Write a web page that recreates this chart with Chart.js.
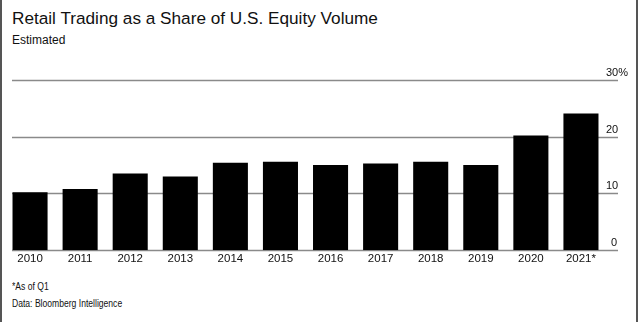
<!DOCTYPE html>
<html>
<head>
<meta charset="utf-8">
<script src="https://cdn.jsdelivr.net/npm/chart.js@4/dist/chart.umd.min.js"></script>
<style>
  html, body { margin: 0; padding: 0; background: #fff; }
  #wrap {
    position: relative; width: 640px; height: 322px; overflow: hidden;
    font-family: "Liberation Sans", Arial, sans-serif; color: #111;
  }
  #wrap::before, #wrap::after {
    content: ""; position: absolute; top: 0; bottom: 0; width: 2px; background: #555;
  }
  #wrap::before { left: 0; }
  #wrap::after { left: 636px; }
  .title { position: absolute; left: 12px; top: 8px; font-size: 17.2px; white-space: nowrap; }
  .sub { position: absolute; left: 12px; top: 33px; font-size: 12px; }
  .note {
    position: absolute; left: 12px; font-size: 11px; white-space: nowrap;
    transform: scaleX(0.78); transform-origin: left center;
  }
  #chartBox { position: absolute; left: 0; top: 0; width: 640px; height: 268px; }
</style>
</head>
<body>
<div id="wrap">
  <div class="title">Retail Trading as a Share of U.S. Equity Volume</div>
  <div class="sub">Estimated</div>
  <div id="chartBox"><canvas id="chartRetail"></canvas></div>
  <div class="note" style="top:280px">*As of Q1</div>
  <div class="note" style="top:297px">Data: Bloomberg Intelligence</div>
</div>
<script>
const years = ["2010", "2011", "2012", "2013", "2014", "2015", "2016", "2017", "2018", "2019", "2020", "2021*"];
const retailShare = [10.2, 10.8, 13.5, 13.0, 15.4, 15.6, 15.0, 15.3, 15.6, 15.0, 20.2, 24.1];
const yTicks = [0, 10, 20, 30];

const gridColor = "#8a8a8a";

/** Gridlines and right-hand labels, drawn above each line from the y scale */
const rightGrid = {
  id: "rightGrid",
  beforeDatasetsDraw(chart) {
    const { ctx, chartArea, scales } = chart;
    const y = scales.y;
    ctx.save();
    yTicks.forEach((v) => {
      const py = Math.round(y.getPixelForValue(v)) + 0.5;
      ctx.strokeStyle = gridColor;
      ctx.lineWidth = 1.5;
      ctx.beginPath();
      ctx.moveTo(chartArea.left + 7, py);
      ctx.lineTo(chartArea.right + 12, py);
      ctx.stroke();
      ctx.fillStyle = "#111";
      ctx.font = "11px 'Liberation Sans', Arial, sans-serif";
      ctx.textAlign = "left";
      ctx.textBaseline = "alphabetic";
      const label = v === 30 ? v + "%" : String(v);
      const lx = v === 0 ? chartArea.right + 5 : chartArea.right;
      ctx.fillText(label, lx, py - 5);
    });
    ctx.restore();
  }
};

new Chart(document.getElementById("chartRetail"), {
  type: "bar",
  data: {
    labels: years,
    datasets: [
      {
        label: "Retail share",
        data: retailShare,
        backgroundColor: "#000",
        borderColor: "#000",
        borderWidth: 0,
        categoryPercentage: 0.7,
        barPercentage: 1.0
      }
    ]
  },
  options: {
    responsive: true,
    maintainAspectRatio: false,
    animation: false,
    layout: { padding: { left: 5, right: 34, top: 80, bottom: 0 } },
    plugins: { legend: { display: false }, tooltip: { enabled: false } },
    scales: {
      x: {
        grid: { display: false, drawTicks: false },
        border: { display: false },
        ticks: {
          color: "#111",
          padding: 2,
          maxRotation: 0,
          font: { family: "'Liberation Sans', Arial, sans-serif", size: 11.5 }
        }
      },
      y: {
        display: false,
        min: 0,
        max: 30,
        ticks: { stepSize: 10 }
      }
    }
  },
  plugins: [rightGrid]
});
</script>
</body>
</html>
